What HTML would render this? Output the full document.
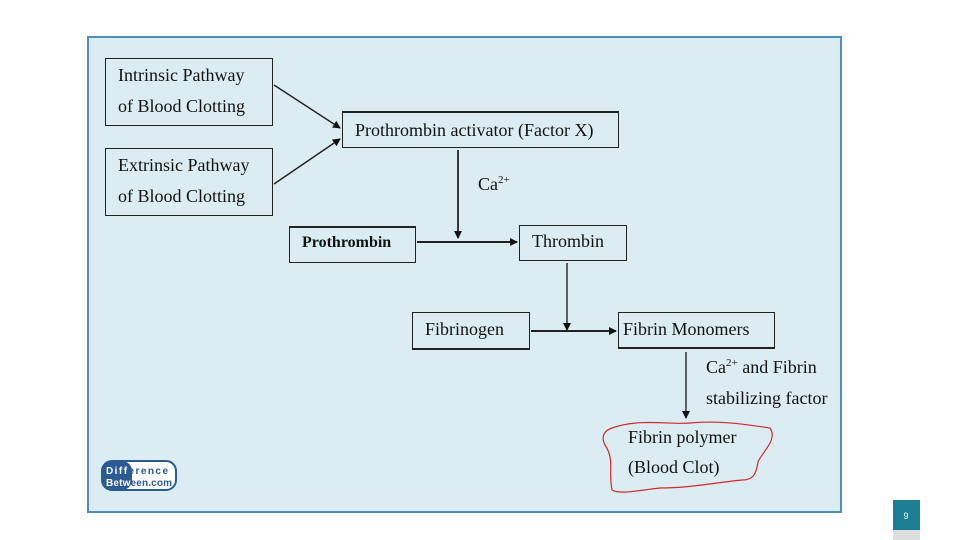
<!DOCTYPE html>
<html><head><style>
body{margin:0;width:960px;height:540px;background:#fff;position:relative;overflow:hidden;font-family:"Liberation Serif",serif;}
.panel{position:absolute;left:87px;top:36px;width:751px;height:473px;background:#dbedf3;border:2px solid #4d8fbf;}
.b{position:absolute;border:1px solid #222;background:#dbedf3;font-size:18px;color:#111;box-sizing:border-box;}
.b span{position:absolute;left:12px;white-space:nowrap;}
.t{position:absolute;font-size:18px;color:#111;white-space:nowrap;}
sup{font-size:11px;}
</style></head><body>
<div class="panel"></div>
<div class="b" style="left:105px;top:58px;width:168px;height:68px"><span style="top:6px">Intrinsic Pathway</span><span style="top:37px">of Blood Clotting</span></div>
<div class="b" style="left:105px;top:148px;width:168px;height:68px"><span style="top:6px">Extrinsic Pathway</span><span style="top:37px">of Blood Clotting</span></div>
<div class="b" style="left:342px;top:111px;width:277px;height:37px;border-top-width:2px"><span style="top:7px">Prothrombin activator (Factor X)</span></div>
<div class="b" style="left:289px;top:226px;width:127px;height:37px;border-top-width:2px"><span style="top:6px;font-weight:bold;font-size:16px">Prothrombin</span></div>
<div class="b" style="left:519px;top:225px;width:108px;height:36px"><span style="top:5px">Thrombin</span></div>
<div class="b" style="left:412px;top:312px;width:118px;height:38px;border-bottom-width:2px"><span style="top:6px">Fibrinogen</span></div>
<div class="b" style="left:618px;top:312px;width:157px;height:37px;border-bottom-width:2px"><span style="top:6px;left:4px">Fibrin Monomers</span></div>
<div class="t" style="left:478px;top:174px">Ca<sup>2+</sup></div>
<div class="t" style="left:706px;top:357px">Ca<sup>2+</sup> and Fibrin</div>
<div class="t" style="left:706px;top:388px">stabilizing factor</div>
<div class="t" style="left:628px;top:427px">Fibrin polymer</div>
<div class="t" style="left:628px;top:457px">(Blood Clot)</div>
<svg width="960" height="540" style="position:absolute;left:0;top:0">
<defs><marker id="a" markerWidth="8" markerHeight="8" refX="7" refY="4" orient="auto" markerUnits="userSpaceOnUse"><path d="M0,0L8,4L0,8z" fill="#111"/></marker></defs>
<g stroke="#222" stroke-width="1.4" fill="none">
<line x1="274" y1="85" x2="340" y2="128" marker-end="url(#a)"/>
<line x1="274" y1="184" x2="340" y2="139" marker-end="url(#a)"/>
<line x1="458" y1="150" x2="458" y2="238" stroke-width="1.8" marker-end="url(#a)"/>
<line x1="417" y1="242" x2="517" y2="242" stroke-width="2" marker-end="url(#a)"/>
<line x1="567" y1="263" x2="567" y2="330" marker-end="url(#a)"/>
<line x1="531" y1="331" x2="616" y2="331" stroke-width="2" marker-end="url(#a)"/>
<line x1="686" y1="352" x2="686" y2="418" marker-end="url(#a)"/>
</g>
<path d="M612,428 C640,418 670,425 690,423 C720,420 750,425 770,428 C778,440 762,452 758,462 C756,476 752,480 742,480 C720,482 690,488 660,488 C640,490 620,495 612,490 C608,470 615,460 605,445 C600,435 606,430 612,428Z" fill="none" stroke="#d0282a" stroke-width="1.2"/>
<rect x="102" y="461" width="74" height="29" rx="10" fill="#fff" stroke="#2c5a92" stroke-width="2"/>
<rect x="102" y="461" width="30" height="29" rx="10" fill="#2c5a92"/>
<text x="106" y="474" font-family="Liberation Sans" font-size="10" font-weight="bold" fill="#fff" textLength="62">Diff<tspan fill="#2c5a92">erence</tspan></text>
<text x="106" y="486" font-family="Liberation Sans" font-size="10" font-weight="bold" fill="#fff" textLength="66">Betw<tspan fill="#2c5a92">een.com</tspan></text>
<rect x="893" y="500" width="27" height="30" fill="#1d7f95"/>
<rect x="893" y="530" width="27" height="10" fill="#ddd"/>
<text x="906" y="519" font-family="Liberation Sans" font-size="9" fill="#fff" text-anchor="middle">9</text>
</svg>
</body></html>
